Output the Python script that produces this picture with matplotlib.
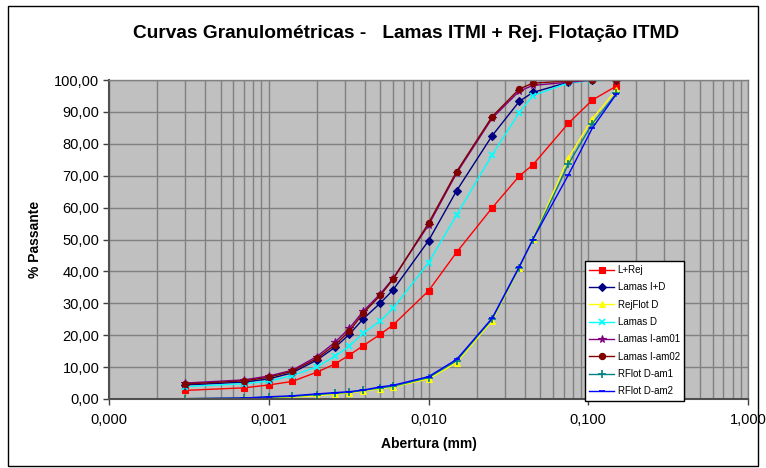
import matplotlib
matplotlib.use("Agg")
import matplotlib.pyplot as plt
from matplotlib.ticker import FixedLocator, FuncFormatter, LogLocator, NullFormatter
from matplotlib.patches import Rectangle

plt.rcParams['font.family'] = ['Liberation Sans', 'DejaVu Sans']

aberturas = [0.0003, 0.0007, 0.001, 0.0014, 0.002, 0.0026, 0.0032, 0.0039, 0.005, 0.006,
             0.01, 0.015, 0.025, 0.037, 0.045, 0.075, 0.106, 0.150]

l_rej      = [2.7, 3.5, 4.4, 5.5, 8.4, 11.0, 13.8, 16.7, 20.3, 23.2, 33.9, 46.0, 59.9, 69.9, 73.4, 86.4, 93.7, 98.1]
lamas_id   = [4.4, 5.3, 6.3, 8.2, 12.2, 16.2, 20.3, 25.1, 30.1, 34.2, 49.6, 65.3, 82.5, 93.3, 96.1, 99.3, 99.9, 100.0]
rejflot_d  = [0.1, 0.2, 0.4, 0.6, 1.0, 1.6, 1.9, 2.5, 3.2, 3.8, 6.3, 11.4, 24.5, 41.0, 50.1, 75.5, 87.8, 96.9]
lamas_d    = [3.9, 4.8, 5.6, 7.3, 10.1, 13.4, 16.6, 20.6, 24.5, 28.4, 42.7, 57.7, 76.5, 89.8, 95.1, 99.1, 99.8, 100.0]
lamas_am01 = [5.0, 6.0, 7.2, 9.0, 13.3, 17.8, 22.2, 27.5, 33.0, 37.8, 54.5, 70.8, 88.0, 96.5, 98.3, 99.3, 99.9, 100.0]
lamas_am02 = [4.7, 5.7, 6.8, 8.7, 12.7, 17.0, 21.3, 26.9, 32.5, 37.5, 55.1, 71.3, 88.5, 97.2, 99.0, 99.7, 100.0, 100.0]
rflot_am1  = [0.1, 0.3, 0.6, 0.8, 1.4, 1.8, 2.1, 2.7, 3.5, 4.0, 6.7, 12.0, 25.0, 41.2, 50.0, 73.6, 86.3, 95.8]
rflot_am2  = [0.1, 0.3, 0.7, 1.0, 1.6, 2.0, 2.3, 2.8, 3.8, 4.3, 7.0, 12.4, 25.3, 41.5, 50.0, 70.2, 84.9, 95.6]

series = [
    ("L+Rej", l_rej, "#FF0000", "s", 4.5),
    ("Lamas I+D", lamas_id, "#000080", "D", 3.8),
    ("RejFlot D", rejflot_d, "#FFFF00", "^", 5.0),
    ("Lamas D", lamas_d, "#00FFFF", "x", 5.0),
    ("Lamas I-am01", lamas_am01, "#800080", "*", 5.5),
    ("Lamas I-am02", lamas_am02, "#800000", "o", 4.5),
    ("RFlot D-am1", rflot_am1, "#008080", "+", 5.5),
    ("RFlot D-am2", rflot_am2, "#0000FF", "_", 5.0),
]

fig = plt.figure(figsize=(7.66, 4.68), dpi=100)
fig.patches.append(Rectangle((8/766, 2/468), 750/766, 460/468, transform=fig.transFigure,
                             fill=False, edgecolor="#000000", linewidth=1.0))
ax = fig.add_axes([109/766, 69/468, 639/766, 319/468])
ax.set_facecolor("#C0C0C0")

for name, vals, col, mk, ms in series:
    mew = 1.2 if mk in ("x", "+", "_") else 0.8
    ax.plot(aberturas, vals, color=col, marker=mk, markersize=ms, linewidth=1.0,
            markeredgecolor=col, markerfacecolor=col, markeredgewidth=mew, label=name)

ax.set_xscale("log")
ax.set_xlim(0.0001, 1)
ax.set_ylim(0, 100)
ax.xaxis.set_major_locator(FixedLocator([0.0001, 0.001, 0.01, 0.1, 1]))
ax.xaxis.set_minor_locator(LogLocator(base=10, subs=[2, 3, 4, 5, 6, 7, 8, 9], numticks=20))
ax.xaxis.set_minor_formatter(NullFormatter())
ax.xaxis.set_major_formatter(FuncFormatter(lambda v, p: f"{v:.3f}".replace(".", ",")))
ax.set_yticks(range(0, 101, 10))
ax.yaxis.set_major_formatter(FuncFormatter(lambda v, p: f"{v:.2f}".replace(".", ",")))

ax.grid(True, which="major", color="#808080", linewidth=1.0)
ax.grid(True, which="minor", axis="x", color="#808080", linewidth=1.0)
ax.set_axisbelow(True)
ax.tick_params(axis="both", which="major", direction="out", length=4, width=1,
               color="#404040", labelsize=10.5, pad=3)
ax.tick_params(axis="x", which="minor", length=0)
ax.tick_params(axis="x", which="major", pad=6)
for s in ("left", "bottom"):
    ax.spines[s].set_color("#505050")
    ax.spines[s].set_linewidth(1.5)
for s in ("top", "right"):
    ax.spines[s].set_color("#808080")
    ax.spines[s].set_linewidth(1.0)

ax.set_xlabel("Abertura (mm)", fontsize=10, fontweight="bold", labelpad=7)
ax.set_ylabel("% Passante", fontsize=10, fontweight="bold", labelpad=9)
fig.text(406/766, 1 - 33/468, "Curvas Granulométricas -   Lamas ITMI + Rej. Flotação ITMD",
         ha="center", va="center", fontsize=13.8, fontweight="bold")

leg = ax.legend(loc="lower left", bbox_to_anchor=(0.745, -0.005), borderaxespad=0,
                fontsize=7, frameon=True, fancybox=False, framealpha=1, edgecolor="#000000",
                handlelength=2.5, labelspacing=0.75, borderpad=0.45, handletextpad=0.4)
leg.get_frame().set_linewidth(1.0)
leg.set_zorder(10)

fig.savefig("out.png", dpi=100)
